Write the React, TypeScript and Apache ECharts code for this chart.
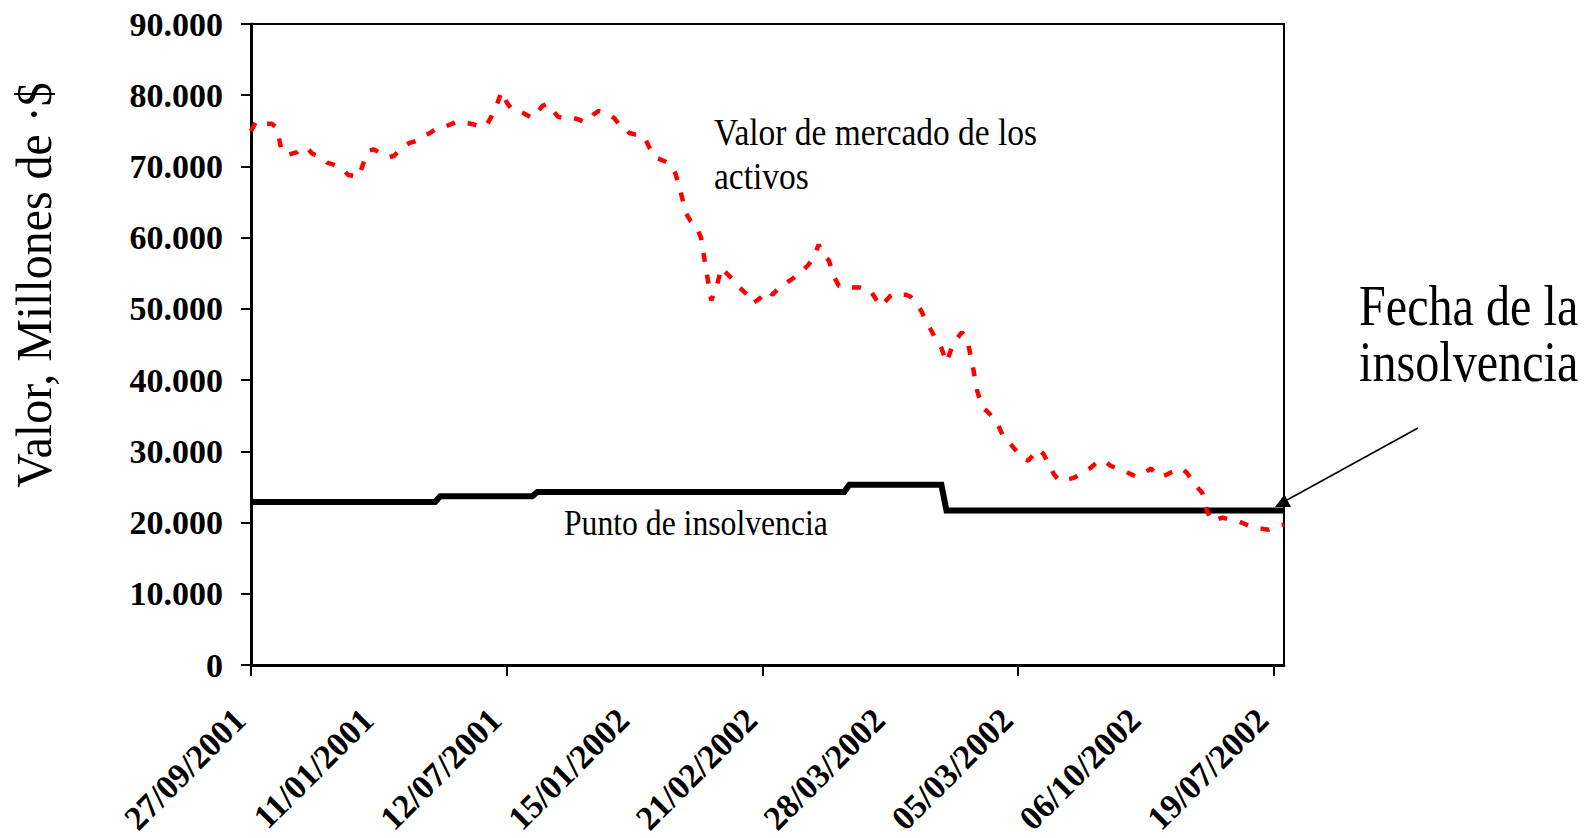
import React, { useEffect, useRef } from "react";
import * as echarts from "echarts";

// Tick labels shown every 25 trading days (ticks every 50)
const tickLabels = [
  "27/09/2001", "11/01/2001", "12/07/2001", "15/01/2002", "21/02/2002",
  "28/03/2002", "05/03/2002", "06/10/2002", "19/07/2002",
];
const labelStep = 25;
const tickStep = 50;

// Valor de mercado de los activos (daily, millones)
const marketValue = [
  75000, 76300, 76000, 76000, 76000, 75500, 72200, 71600, 71800, 72000,
  72600, 72600, 71800, 71500, 71200, 70500, 70300, 70000, 69600, 68800,
  68700, 68500, 70500, 72200, 72400, 72000, 71600, 71300, 71500, 72300,
  72900, 73300, 73500, 73800, 74300, 74700, 75200, 75500, 75600, 75900,
  76200, 76000, 76100, 76000, 75800, 75600, 75700, 77000, 78500, 80500,
  79000, 78000, 77800, 77600, 77200, 76800, 77600, 78500, 78800, 77900,
  77000, 76800, 76900, 76800, 76600, 76300, 76400, 77300, 77800, 77600,
  77300, 76800, 75900, 75500, 74700, 74500, 74500, 74000, 72500, 71300,
  71000, 70700, 70300, 69000, 66500, 63500, 62300, 61700, 60000, 55500,
  51200, 53000, 55800, 55000, 54300, 53300, 52700, 52000, 50800, 51200,
  51800, 52600, 52000, 52800, 53300, 53800, 54300, 55000, 55500, 56200,
  57200, 59000, 57500, 56800, 54500, 53200, 53000, 53100, 53000, 53000,
  52800, 52700, 51600, 50400, 51000, 51800, 52200, 52000, 52000, 51700,
  50800, 49800, 48300, 47000, 45600, 44500, 42500, 44500, 45800, 46700,
  45900, 42500, 38500, 36200, 35600, 34800, 33800, 32300, 31500, 30600,
  29800, 29000, 28700, 29500, 30300, 29600, 28200, 26800, 25900, 26000,
  26100, 26300, 26800, 27200, 27600, 28200, 28700, 28600, 28000, 27700,
  27400, 27200, 26800, 26500, 26600, 27100, 27600, 26800, 26400, 26700,
  27100, 27400, 27600, 27000, 26000, 25000, 24200, 21500, 20200, 20500,
  20700, 20500, 20300, 20200, 19900, 19600, 19300, 19200, 19100, 19000,
  19200, 19500, 19700,
];

// Punto de insolvencia: step levels (first day of each level, value)
const insolvencyStartDay = [0, 37, 56, 117, 136];
const insolvencyLevel = [22900, 23700, 24300, 25300, 21700];

const yTicks = [0, 10000, 20000, 30000, 40000, 50000, 60000, 70000, 80000, 90000];

const SERIF = "'Liberation Serif', 'Times New Roman', serif";

export default function App() {
  const ref = useRef<HTMLDivElement>(null);

  useEffect(() => {
    if (!ref.current) return;
    const chart = echarts.init(ref.current, null, { renderer: "svg" });

    const categories = marketValue.map((_, i) => String(i));
    const insolvency = marketValue.map((_, i) => {
      let lvl = insolvencyLevel[0];
      for (let k = 0; k < insolvencyStartDay.length; k++) {
        if (i >= insolvencyStartDay[k]) lvl = insolvencyLevel[k];
      }
      return lvl;
    });

    const fmtY = (v: number) => (v === 0 ? "0" : `${Math.round(v / 1000)}.000`);

    chart.setOption({
      animation: false,
      backgroundColor: "#ffffff",
      grid: {
        left: 251,
        top: 24,
        right: 305,
        bottom: 171,
        show: true,
        borderColor: "#000",
        borderWidth: 2,
        backgroundColor: "transparent",
      },
      xAxis: {
        type: "category",
        data: categories,
        boundaryGap: false,
        axisLine: { show: true, lineStyle: { color: "#000", width: 3 } },
        axisTick: {
          show: true,
          length: 11,
          lineStyle: { color: "#000", width: 2 },
          interval: (i: number) => i % tickStep === 0,
        },
        axisLabel: {
          interval: (i: number) => i % labelStep === 0,
          rotate: 45,
          margin: 38,
          padding: [0, 16, 0, 0],
          fontFamily: SERIF,
          fontWeight: "bold",
          fontSize: 34,
          color: "#000",
          formatter: (_v: string, idx: number) =>
            idx % labelStep === 0 ? tickLabels[idx / labelStep] ?? "" : "",
        },
        splitLine: { show: false },
      },
      yAxis: {
        type: "value",
        min: yTicks[0],
        max: yTicks[yTicks.length - 1],
        interval: yTicks[1] - yTicks[0],
        axisLine: { show: true, lineStyle: { color: "#000", width: 3 } },
        axisTick: { show: true, length: 10, lineStyle: { color: "#000", width: 2 } },
        axisLabel: {
          margin: 28,
          fontFamily: SERIF,
          fontWeight: "bold",
          fontSize: 34,
          color: "#000",
          formatter: fmtY,
        },
        splitLine: { show: false },
      },
      series: [
        {
          name: "Punto de insolvencia",
          type: "line",
          data: insolvency,
          symbol: "none",
          z: 2,
          lineStyle: { color: "#000", width: 6, cap: "butt", join: "miter" },
        },
        {
          name: "Valor de mercado de los activos",
          type: "line",
          data: marketValue,
          symbol: "none",
          z: 3,
          lineStyle: { color: "#FF0000", width: 4.5, type: [9, 13], cap: "butt" },
        },
      ],
      graphic: [
        {
          type: "text",
          x: 34,
          y: 285,
          rotation: Math.PI / 2,
          scaleX: 0.94,
          style: {
            text: "Valor, Millones de ·$",
            font: `51px ${SERIF}`,
            fill: "#000",
            textAlign: "center",
            textVerticalAlign: "middle",
          },
        },
        {
          type: "text",
          x: 714,
          y: 132,
          scaleX: 0.88,
          style: {
            text: "Valor de mercado de los",
            font: `38px ${SERIF}`,
            fill: "#000",
            textAlign: "left",
            textVerticalAlign: "middle",
          },
        },
        {
          type: "text",
          x: 714,
          y: 176,
          scaleX: 0.88,
          style: {
            text: "activos",
            font: `38px ${SERIF}`,
            fill: "#000",
            textAlign: "left",
            textVerticalAlign: "middle",
          },
        },
        {
          type: "text",
          x: 564,
          y: 523,
          scaleX: 0.88,
          style: {
            text: "Punto de insolvencia",
            font: `36px ${SERIF}`,
            fill: "#000",
            textAlign: "left",
            textVerticalAlign: "middle",
          },
        },
        {
          type: "text",
          x: 1359,
          y: 306,
          scaleX: 0.86,
          style: {
            text: "Fecha de la",
            font: `56px ${SERIF}`,
            fill: "#000",
            textAlign: "left",
            textVerticalAlign: "middle",
          },
        },
        {
          type: "text",
          x: 1359,
          y: 362,
          scaleX: 0.86,
          style: {
            text: "insolvencia",
            font: `56px ${SERIF}`,
            fill: "#000",
            textAlign: "left",
            textVerticalAlign: "middle",
          },
        },
        {
          type: "line",
          shape: { x1: 1418, y1: 428, x2: 1287, y2: 500 },
          style: { stroke: "#000", lineWidth: 1.6 },
        },
        {
          type: "polygon",
          shape: { points: [[1275, 507], [1291, 507], [1284.5, 494.5]] },
          style: { fill: "#000" },
        },
      ],
    });

    return () => chart.dispose();
  }, []);

  return (
    <div
      ref={ref}
      style={{ position: "fixed", left: 0, top: 0, width: 1589, height: 838, background: "#fff" }}
    />
  );
}
